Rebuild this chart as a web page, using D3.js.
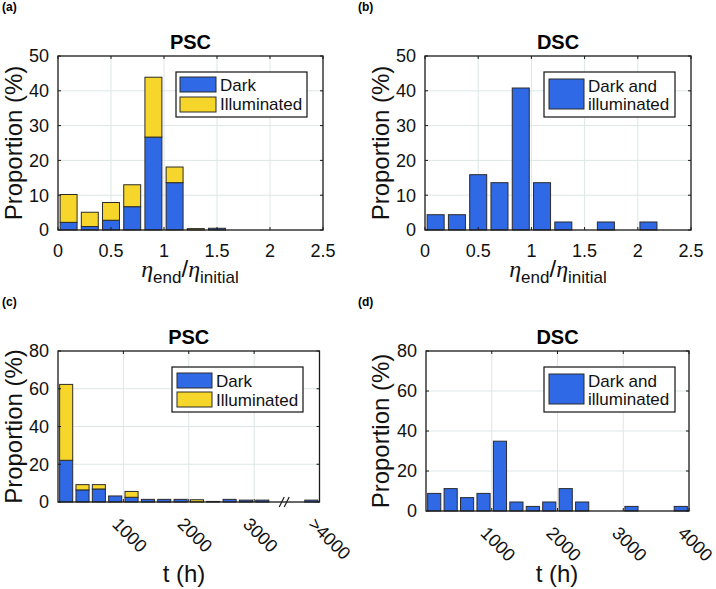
<!DOCTYPE html>
<html><head><meta charset="utf-8">
<script src="https://cdn.jsdelivr.net/npm/d3@7"></script>
<style>body{margin:0;background:#fff}svg{display:block}</style>
</head><body>
<svg id="c" width="716" height="589"></svg>
<script>
// ---------- data ----------
const etaTicks = [0, 0.5, 1, 1.5, 2, 2.5];
const etaTickLabels = ["0", "0.5", "1", "1.5", "2", "2.5"];
const tTicks = [1000, 2000, 3000, 4000];
const tTickLabelsPSC = ["1000", "2000", "3000", ">4000"];
const tTickLabelsDSC = ["1000", "2000", "3000", "4000"];
const yTicksA = [0, 10, 20, 30, 40, 50];
const yTicksC = [0, 20, 40, 60, 80];

const aCenters = [0.1, 0.3, 0.5, 0.7, 0.9, 1.1, 1.3, 1.5];
const aDark    = [2.2, 1.0, 2.8, 6.7, 26.7, 13.6, 0, 0.5];
const aIllum   = [8.0, 4.1, 5.1, 6.3, 17.2, 4.5, 0.4, 0];

const bCenters = [0.1, 0.3, 0.5, 0.7, 0.9, 1.1, 1.3, 1.5, 1.7, 1.9, 2.1];
const bValues  = [4.4, 4.4, 15.9, 13.6, 40.8, 13.6, 2.3, 0, 2.3, 0, 2.3];

const cCenters = [125, 375, 625, 875, 1125, 1375, 1625, 1875, 2125, 2375, 2625, 2875, 3125, 3875];
const cDark    = [22.1, 6.4, 6.9, 3.2, 2.5, 1.4, 1.4, 1.4, 0, 0.3, 1.4, 1.0, 1.0, 1.0];
const cIllum   = [40.2, 2.8, 2.3, 0, 3.1, 0, 0, 0, 1.2, 0, 0, 0, 0, 0];

const dCenters = [125, 375, 625, 875, 1125, 1375, 1625, 1875, 2125, 2375, 2625, 2875, 3125, 3375, 3625, 3875];
const dValues  = [8.8, 11.2, 6.7, 8.8, 34.9, 4.5, 2.3, 4.5, 11.2, 4.5, 0, 0, 2.3, 0, 0, 2.3];

// ---------- style ----------
const BLUE = "#2f69e6", YELLOW = "#f6d62a", EDGE = "#2b2b2b";
const AX = "#1a1a1a", GRID = "#dde6e6";
const FONT = "'Liberation Sans', Arial, Helvetica, sans-serif";
const svg = d3.select("#c");

function panel(o) {
  const g = svg.append("g");
  const x = d3.scaleLinear().domain(o.xDomain).range([o.left, o.right]);
  const y = d3.scaleLinear().domain(o.yDomain).range([o.bottom, o.top]);
  // grid
  g.selectAll(".gx").data(o.xTicks.filter(t => x(t) > o.left + 1 && x(t) < o.right - 1)).enter()
    .append("line").attr("x1", d => x(d)).attr("x2", d => x(d)).attr("y1", o.top).attr("y2", o.bottom)
    .attr("stroke", GRID).attr("stroke-width", 1);
  g.selectAll(".gy").data(o.yTicks.filter(t => y(t) > o.top + 1 && y(t) < o.bottom - 1)).enter()
    .append("line").attr("y1", d => y(d)).attr("y2", d => y(d)).attr("x1", o.left).attr("x2", o.right)
    .attr("stroke", GRID).attr("stroke-width", 1);
  // bars
  const hw = o.binW * 0.4;
  o.series.forEach(s => {
    g.selectAll(null).data(o.centers.map((c, i) => ({c, lo: s.base ? s.base[i] : 0, v: s.values[i]})).filter(d => d.v > 0))
      .enter().append("rect")
      .attr("x", d => x(d.c - hw)).attr("width", d => x(d.c + hw) - x(d.c - hw))
      .attr("y", d => y(d.lo + d.v)).attr("height", d => y(d.lo) - y(d.lo + d.v))
      .attr("fill", s.color).attr("stroke", EDGE).attr("stroke-width", 1);
  });
  // frame
  g.append("rect").attr("x", o.left).attr("y", o.top).attr("width", o.right - o.left).attr("height", o.bottom - o.top)
    .attr("fill", "none").attr("stroke", AX).attr("stroke-width", 1.3);
  // inward ticks on all sides
  const tl = 3;
  o.xTicks.forEach(t => {
    g.append("line").attr("x1", x(t)).attr("x2", x(t)).attr("y1", o.bottom).attr("y2", o.bottom - tl).attr("stroke", AX);
    g.append("line").attr("x1", x(t)).attr("x2", x(t)).attr("y1", o.top).attr("y2", o.top + tl).attr("stroke", AX);
  });
  o.yTicks.forEach(t => {
    g.append("line").attr("y1", y(t)).attr("y2", y(t)).attr("x1", o.left).attr("x2", o.left + tl).attr("stroke", AX);
    g.append("line").attr("y1", y(t)).attr("y2", y(t)).attr("x1", o.right).attr("x2", o.right - tl).attr("stroke", AX);
  });
  // y tick labels
  g.selectAll(null).data(o.yTicks).enter().append("text")
    .attr("x", o.left - 9).attr("y", d => y(d)).attr("dy", "0.36em")
    .attr("text-anchor", "end").attr("font-family", FONT).attr("font-size", 18).attr("fill", "#111")
    .text(d => d);
  // x tick labels
  if (o.rotated) {
    o.xTicks.forEach((t, i) => {
      g.append("text").attr("transform", `translate(${x(t) - 3},${o.bottom + 14}) rotate(45)`)
        .attr("dy", "0.72em").attr("font-family", FONT).attr("font-size", 18).attr("fill", "#111")
        .text(o.xTickLabels[i]);
    });
  } else {
    o.xTicks.forEach((t, i) => {
      g.append("text").attr("x", x(t)).attr("y", o.bottom + 27).attr("text-anchor", "middle")
        .attr("font-family", FONT).attr("font-size", 18).attr("fill", "#111").text(o.xTickLabels[i]);
    });
  }
  // title
  g.append("text").attr("x", (o.left + o.right) / 2).attr("y", o.top - 7).attr("text-anchor", "middle")
    .attr("font-family", FONT).attr("font-size", 20).attr("font-weight", "bold").attr("fill", "#000").text(o.title);
  // y label
  g.append("text").attr("transform", `translate(${o.ylabX},${(o.top + o.bottom) / 2}) rotate(-90)`)
    .attr("text-anchor", "middle").attr("font-family", FONT).attr("font-size", 24).attr("fill", "#111")
    .text("Proportion (%)");
  // x label
  const xl = g.append("text").attr("x", o.xlabX).attr("y", o.xlabY).attr("text-anchor", "middle")
    .attr("font-family", FONT).attr("font-size", 24).attr("fill", "#111");
  if (o.etaLabel) {
    xl.append("tspan").attr("font-family", "'Liberation Serif', serif").attr("font-style", "italic").text("η");
    xl.append("tspan").attr("font-size", 17).attr("dy", 6).text("end");
    xl.append("tspan").attr("dy", -6).text("/");
    xl.append("tspan").attr("font-family", "'Liberation Serif', serif").attr("font-style", "italic").text("η");
    xl.append("tspan").attr("font-size", 17).attr("dy", 6).text("initial");
  } else {
    xl.text("t (h)");
  }
  // break mark
  if (o.breakAt) {
    const bx = x(o.breakAt);
    [-2.5, 2.5].forEach(dx => {
      g.append("line").attr("x1", bx + dx - 2.5).attr("y1", o.bottom + 5).attr("x2", bx + dx + 2.5).attr("y2", o.bottom - 5)
        .attr("stroke", AX).attr("stroke-width", 1.2);
    });
  }
  // legend
  const L = o.legend;
  g.append("rect").attr("x", L.x).attr("y", L.y).attr("width", L.w).attr("height", L.h)
    .attr("fill", "#fff").attr("stroke", "#111").attr("stroke-width", 1.2);
  L.items.forEach(it => {
    g.append("rect").attr("x", it.px).attr("y", it.py).attr("width", it.pw).attr("height", it.ph)
      .attr("fill", it.color).attr("stroke", EDGE).attr("stroke-width", 1);
    it.lines.forEach((ln, j) => {
      g.append("text").attr("x", it.tx).attr("y", it.ty + j * 18).attr("font-family", FONT)
        .attr("font-size", 17).attr("fill", "#111").text(ln);
    });
  });
  // panel label
  g.append("text").attr("x", o.tagX).attr("y", o.tagY).attr("font-family", FONT).attr("font-size", 12)
    .attr("font-weight", "bold").attr("fill", "#000").text(o.tag);
}

panel({
  tag: "(a)", tagX: 2, tagY: 11, title: "PSC",
  left: 58, right: 323, top: 56, bottom: 230,
  xDomain: [0, 2.5], yDomain: [0, 50], xTicks: etaTicks, xTickLabels: etaTickLabels, yTicks: yTicksA,
  binW: 0.2, centers: aCenters,
  series: [{values: aDark, color: BLUE}, {values: aIllum, base: aDark, color: YELLOW}],
  ylabX: 22, xlabX: 190, xlabY: 277, etaLabel: true,
  legend: {x: 176, y: 72, w: 131, h: 45, items: [
    {px: 180, py: 77, pw: 36, ph: 15, color: BLUE, tx: 220, ty: 91, lines: ["Dark"]},
    {px: 180, py: 97, pw: 36, ph: 15, color: YELLOW, tx: 220, ty: 110, lines: ["Illuminated"]}]}
});

panel({
  tag: "(b)", tagX: 358, tagY: 11, title: "DSC",
  left: 425, right: 691, top: 56, bottom: 230,
  xDomain: [0, 2.5], yDomain: [0, 50], xTicks: etaTicks, xTickLabels: etaTickLabels, yTicks: yTicksA,
  binW: 0.2, centers: bCenters,
  series: [{values: bValues, color: BLUE}],
  ylabX: 389, xlabX: 558, xlabY: 277, etaLabel: true,
  legend: {x: 544, y: 72, w: 131, h: 45, items: [
    {px: 549, py: 79, pw: 35, ph: 30, color: BLUE, tx: 588, ty: 92, lines: ["Dark and", "illuminated"]}]}
});

panel({
  tag: "(c)", tagX: 2, tagY: 306, title: "PSC",
  left: 58, right: 319.5, top: 351, bottom: 502,
  xDomain: [0, 4000], yDomain: [0, 80], xTicks: tTicks, xTickLabels: tTickLabelsPSC, yTicks: yTicksC,
  binW: 250, centers: cCenters, rotated: true, breakAt: 3460,
  series: [{values: cDark, color: BLUE}, {values: cIllum, base: cDark, color: YELLOW}],
  ylabX: 22, xlabX: 184, xlabY: 582,
  legend: {x: 172, y: 367, w: 131, h: 45, items: [
    {px: 177, py: 373, pw: 35, ph: 15, color: BLUE, tx: 216, ty: 387, lines: ["Dark"]},
    {px: 177, py: 392, pw: 35, ph: 15, color: YELLOW, tx: 216, ty: 406, lines: ["Illuminated"]}]}
});

panel({
  tag: "(d)", tagX: 358, tagY: 306, title: "DSC",
  left: 426, right: 689, top: 351, bottom: 511,
  xDomain: [0, 4000], yDomain: [0, 80], xTicks: tTicks, xTickLabels: tTickLabelsDSC, yTicks: yTicksC,
  binW: 250, centers: dCenters, rotated: true,
  series: [{values: dValues, color: BLUE}],
  ylabX: 389, xlabX: 557, xlabY: 582,
  legend: {x: 544, y: 367, w: 131, h: 45, items: [
    {px: 549, py: 374, pw: 35, ph: 30, color: BLUE, tx: 588, ty: 387, lines: ["Dark and", "illuminated"]}]}
});
</script>
</body></html>
